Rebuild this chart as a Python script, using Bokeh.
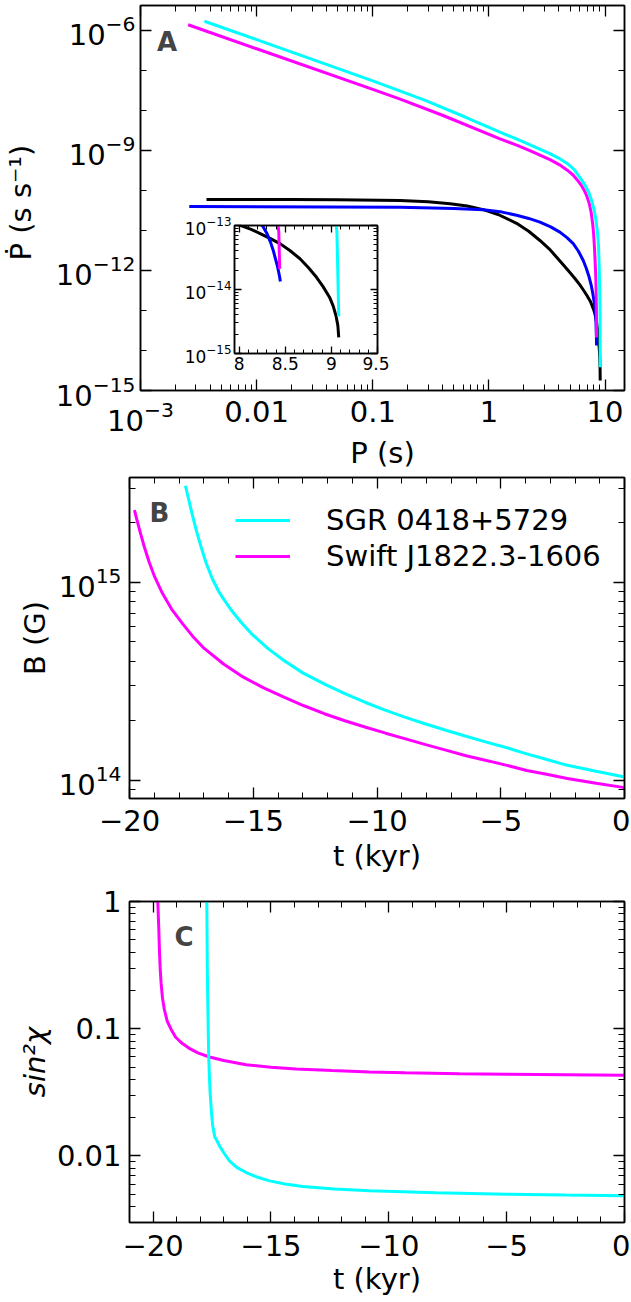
from bokeh.plotting import figure
from bokeh.models import (FixedTicker, LogAxis, LinearAxis, LogTickFormatter, Label,
                          Legend, LegendItem, Range1d, CustomJSTickFormatter)
from bokeh.layouts import column
from bokeh.embed import file_html
from bokeh.resources import INLINE

FONT = "DejaVu Sans"
CYAN = "#00FFFF"
MAGENTA = "#FF00FF"
BLUE = "#0000FF"
BLACK = "#000000"

# ---------------- Panel A : Pdot vs P ----------------
swift_P = [0.00257, 0.01, 0.1, 0.1722, 0.398, 1.246, 1.778, 2.41, 3.35, 4.06, 4.76, 5.33,
           5.81, 6.24, 6.62, 6.98, 7.31, 7.59, 7.82, 7.96, 8.07, 8.18, 8.30, 8.365, 8.41,
           8.43, 8.44]
swift_Pdot = [1.39e-6, 3.48e-7, 3.35e-8, 1.91e-8, 7.59e-9, 1.95e-9, 1.32e-9, 9.1e-10,
              5.9e-10, 4.37e-10, 3.16e-10, 2.4e-10, 1.78e-10, 1.35e-10, 1.0e-10, 7.08e-11,
              4.68e-11, 2.82e-11, 1.48e-11, 8.71e-12, 4.68e-12, 2.09e-12, 8.32e-13,
              3.55e-13, 1.41e-13, 7.94e-14, 2.1e-14]

sgr_P = [0.00355, 0.01, 0.1, 0.283, 0.631, 1.246, 2.0, 3.35, 3.98, 4.75, 5.43, 6.19, 6.76,
         7.31, 7.67, 8.07, 8.36, 8.63, 8.79, 8.91, 8.98, 9.04, 9.06, 9.08]
sgr_Pdot = [1.70e-6, 5.89e-7, 5.5e-8, 1.78e-8, 6.76e-9, 2.88e-9, 1.62e-9, 8.3e-10,
            6.46e-10, 4.68e-10, 3.31e-10, 1.95e-10, 1.32e-10, 8.3e-11, 5.5e-11, 3.16e-11,
            1.78e-11, 8.3e-12, 3.98e-12, 1.2e-12, 3.98e-13, 1.41e-13, 7.94e-14, 3.8e-15]

black_P = [0.0037, 0.02, 0.05, 0.172, 0.30, 0.463, 0.65, 0.895, 1.2, 1.73, 2.2, 2.75, 3.3,
           3.83, 4.4, 4.98, 5.5, 6.07, 6.55, 7.0, 7.5, 8.02, 8.13, 8.234, 8.34, 8.447, 8.55,
           8.66, 8.75, 8.839, 8.91, 8.98, 9.02, 9.05, 9.07, 9.08]
black_Pdot = [5.96e-11, 5.92e-11, 5.89e-11, 5.62e-11, 5.25e-11, 4.68e-11, 4.07e-11,
              3.31e-11, 2.51e-11, 1.51e-11, 9.55e-12, 5.62e-12, 3.47e-12, 2.14e-12,
              1.35e-12, 8.91e-13, 6.31e-13, 4.37e-13, 3.16e-13, 2.34e-13, 1.66e-13,
              1.0e-13, 8.71e-14, 7.41e-14, 6.24e-14, 5.16e-14, 4.07e-14, 3.02e-14, 2.21e-14,
              1.55e-14, 1.11e-14, 7.59e-15, 5.5e-15, 3.89e-15, 2.75e-15, 1.78e-15]

blue_P = [0.00263, 0.172, 0.5, 0.895, 1.3, 1.73, 2.2, 2.75, 3.4, 4.08, 4.7, 5.32, 5.9,
          6.49, 6.9, 7.3, 7.6, 7.85, 8.05, 8.252, 8.30, 8.34, 8.37, 8.394, 8.415, 8.429,
          8.44, 8.447]
blue_Pdot = [3.98e-11, 3.8e-11, 3.55e-11, 3.31e-11, 2.88e-11, 2.4e-11, 2.0e-11, 1.62e-11,
             1.23e-11, 9.12e-12, 6.61e-12, 4.68e-12, 3.02e-12, 1.78e-12, 1.12e-12,
             6.76e-13, 4.27e-13, 2.63e-13, 1.66e-13, 1.0e-13, 7.59e-14, 5.5e-14, 4.07e-14,
             3.02e-14, 2.32e-14, 1.86e-14, 1.55e-14, 1.33e-14]

# ---------------- Panel B : B vs t ----------------
sgr_tB = [-17.74, -17.60, -17.45, -17.30, -17.10, -16.90, -16.65, -16.40, -16.21, -15.90,
          -15.50, -15.07, -14.40, -13.76, -13.00, -12.12, -11.30, -10.49, -9.70, -8.85,
          -8.00, -7.22, -6.40, -5.58, -4.75, -3.95, -3.10, -2.31, -1.15, 0.0]
sgr_B = [3.08e15, 2.60e15, 2.16e15, 1.83e15, 1.50e15, 1.25e15, 1.04e15, 9.02e14, 8.28e14,
         7.28e14, 6.31e14, 5.50e14, 4.63e14, 4.03e14, 3.49e14, 3.06e14, 2.74e14, 2.48e14,
         2.27e14, 2.08e14, 1.92e14, 1.79e14, 1.67e14, 1.56e14, 1.46e14, 1.36e14, 1.27e14,
         1.19e14, 1.11e14, 1.04e14]

swift_tB = [-19.80, -19.70, -19.55, -19.40, -19.20, -19.00, -18.67, -18.30, -17.85, -17.45,
            -17.03, -16.20, -15.40, -14.60, -13.76, -12.95, -12.13, -11.30, -10.49, -9.65,
            -8.85, -8.00, -7.22, -6.40, -5.58, -4.75, -3.95, -3.10, -2.31, -1.15, 0.0]
swift_B = [2.32e15, 2.07e15, 1.76e15, 1.51e15, 1.26e15, 1.08e15, 8.81e14, 7.33e14, 6.17e14,
           5.35e14, 4.70e14, 3.87e14, 3.32e14, 2.94e14, 2.63e14, 2.38e14, 2.17e14, 2.00e14,
           1.86e14, 1.73e14, 1.62e14, 1.51e14, 1.42e14, 1.33e14, 1.26e14, 1.19e14, 1.12e14,
           1.07e14, 1.02e14, 9.66e13, 9.18e13]

# ---------------- Panel C : sin^2 chi vs t ----------------
sgr_tC = [-17.72, -17.71, -17.70, -17.685, -17.67, -17.655, -17.64, -17.61, -17.58, -17.53,
          -17.47, -17.38, -17.30, -17.18, -17.00, -16.76, -16.45, -16.05, -15.60, -15.06,
          -14.40, -13.65, -12.30, -10.82, -8.00, -5.00, -2.50, 0.0]
sgr_sin2 = [1.0, 0.562, 0.316, 0.191, 0.126, 0.0871, 0.0607, 0.0417, 0.0316, 0.0229,
            0.0172, 0.0141, 0.0133, 0.0120, 0.0106, 0.00914, 0.00813, 0.00741, 0.00684,
            0.00637, 0.00603, 0.00575, 0.00550, 0.00532, 0.00513, 0.00501, 0.00493, 0.00486]

swift_tC = [-19.80, -19.76, -19.73, -19.70, -19.66, -19.60, -19.52, -19.40, -19.25, -19.05,
            -18.80, -18.50, -18.10, -17.61, -17.00, -16.05, -15.00, -13.93, -12.40, -10.82,
            -9.30, -7.00, -5.00, -2.50, 0.0]
swift_sin2 = [1.0, 0.631, 0.416, 0.302, 0.228, 0.174, 0.141, 0.115, 0.100, 0.0861, 0.0776,
              0.0708, 0.0646, 0.0600, 0.0562, 0.0522, 0.0499, 0.0483, 0.0469, 0.0458,
              0.0450, 0.0443, 0.0439, 0.0435, 0.0431]

legend_labels = ["SGR 0418+5729", "Swift J1822.3-1606"]

# ---------------- ticks ----------------
A_x_major = [1e-3, 1e-2, 0.1, 1, 10]
A_x_minor = [m * 10.0 ** e for e in range(-3, 1) for m in range(2, 10)]
A_y_major = [1e-15, 1e-12, 1e-9, 1e-6]
A_y_minor = [1e-14, 1e-13, 1e-11, 1e-10, 1e-8, 1e-7]

I_x_major = [8, 8.5, 9, 9.5]
I_x_minor = [round(8 + 0.1 * i, 1) for i in range(1, 15) if i != 5 and i != 10]
I_y_major = [1e-15, 1e-14, 1e-13]
I_y_minor = [m * 10.0 ** e for e in (-15, -14) for m in range(2, 10)]

t_major = [-20, -15, -10, -5, 0]
B_t_minor = [v for v in range(-19, 0) if v % 5 != 0]
C_t_minor = [v for v in range(-20, 0) if v % 5 != 0]
B_y_major = [1e14, 1e15]
B_y_minor = [9e13] + [m * 1e14 for m in range(2, 10)] + [2e15, 3e15]
C_y_major = [0.01, 0.1, 1]
C_y_minor = [m * 10.0 ** e for e in (-3, -2, -1) for m in range(2, 10) if m * 10.0 ** e > 0.0029]

minus_fmt = "return (tick < 0 ? '\\u2212' : '') + Math.abs(tick);"


def style(ax, size, standoff, label_standoff=0, tin=11, minin=6):
    ax.major_tick_in = tin
    ax.major_tick_out = 0
    ax.minor_tick_in = minin
    ax.minor_tick_out = 0
    ax.major_tick_line_color = "black"
    ax.minor_tick_line_color = "black"
    ax.major_tick_line_width = 1.3
    ax.minor_tick_line_width = 1.0
    ax.axis_line_color = "black"
    ax.axis_line_width = 1.5
    ax.major_label_text_font = FONT
    ax.major_label_text_font_size = size
    ax.major_label_text_color = "black"
    ax.major_label_standoff = standoff
    ax.axis_label_text_font = FONT
    ax.axis_label_text_font_size = size
    ax.axis_label_text_font_style = "normal"
    ax.axis_label_text_color = "black"
    ax.axis_label_standoff = label_standoff


def mirror(p, where, ticks, minor, log, tin=11, minin=6):
    Ax = LogAxis if log else LinearAxis
    ax = Ax(ticker=FixedTicker(ticks=ticks, minor_ticks=minor),
            formatter=CustomJSTickFormatter(code="return '';"))
    style(ax, "0px", 0, 0, tin, minin)
    p.add_layout(ax, where)


def base(p):
    p.xgrid.visible = False
    p.ygrid.visible = False
    p.outline_line_color = "black"
    p.outline_line_width = 1.5
    p.background_fill_color = "white"
    p.frame_align = False


# ---------------- Figure A ----------------
pA = figure(width=630, height=490, x_axis_type="log", y_axis_type="log",
            x_range=Range1d(1e-3, 14.7), y_range=Range1d(1e-15, 4.2e-6),
            output_backend="svg", toolbar_location=None,
            min_border_left=140, min_border_right=6, min_border_top=5, min_border_bottom=100)
base(pA)
ax = pA.below[0]
ax.ticker = FixedTicker(ticks=A_x_major, minor_ticks=A_x_minor)
ax.formatter = LogTickFormatter()
ax.major_label_overrides = {0.01: "0.01", 0.1: "0.1", 1: "1", 10: "10"}
ax.axis_label = "P (s)"
style(ax, "29px", 10, 2)
ay = pA.left[0]
ay.ticker = FixedTicker(ticks=A_y_major, minor_ticks=A_y_minor)
ay.formatter = LogTickFormatter()
ay.axis_label = "Ṗ  (s s⁻¹)"
style(ay, "29px", 5, 15)
mirror(pA, "above", A_x_major, A_x_minor, True)
mirror(pA, "right", A_y_major, A_y_minor, True)

pA.line(black_P, black_Pdot, line_width=3, color=BLACK)
pA.line(blue_P, blue_Pdot, line_width=3, color=BLUE)
pA.line(swift_P, swift_Pdot, line_width=3, color=MAGENTA)
pA.line(sgr_P, sgr_Pdot, line_width=3, color=CYAN)
pA.add_layout(Label(x=1.39e-3, y=5.07e-7, text="A", text_font=FONT, text_font_style="bold",
                    text_font_size="26px", text_baseline="alphabetic", text_align="left"))

# ---------------- Inset ----------------
pI = figure(width=208, height=163, y_axis_type="log",
            x_range=Range1d(7.95, 9.5), y_range=Range1d(1e-15, 1e-13),
            output_backend="svg", toolbar_location=None,
            min_border_left=50, min_border_right=12, min_border_top=10, min_border_bottom=25)
base(pI)
pI.border_fill_alpha = 0
pI.margin = (-275, 0, 112, 181)
ix = pI.below[0]
ix.ticker = FixedTicker(ticks=I_x_major, minor_ticks=I_x_minor)
ix.formatter = CustomJSTickFormatter(code="return String(tick);")
style(ix, "17px", 3, 0, 7, 4)
iy = pI.left[0]
iy.ticker = FixedTicker(ticks=I_y_major, minor_ticks=I_y_minor)
iy.formatter = LogTickFormatter()
style(iy, "17px", 3, 0, 7, 4)
mirror(pI, "above", I_x_major, I_x_minor, False, 7, 4)
mirror(pI, "right", I_y_major, I_y_minor, True, 7, 4)
pI.line(black_P, black_Pdot, line_width=3, color=BLACK)
pI.line(blue_P, blue_Pdot, line_width=3, color=BLUE)
pI.line(swift_P, swift_Pdot, line_width=3, color=MAGENTA)
pI.line(sgr_P, sgr_Pdot, line_width=3, color=CYAN)

# ---------------- Figure B ----------------
pB = figure(width=630, height=409, y_axis_type="log",
            x_range=Range1d(-20, 0), y_range=Range1d(8.09e13, 3.39e15),
            output_backend="svg", toolbar_location=None,
            min_border_left=129, min_border_right=6, min_border_top=2, min_border_bottom=86)
base(pB)
pB.border_fill_alpha = 0
pB.margin = (-15, 0, 0, 0)
bx = pB.below[0]
bx.ticker = FixedTicker(ticks=t_major, minor_ticks=B_t_minor)
bx.formatter = CustomJSTickFormatter(code=minus_fmt)
bx.axis_label = "t (kyr)"
style(bx, "29px", 11, 5)
by = pB.left[0]
by.ticker = FixedTicker(ticks=B_y_major, minor_ticks=B_y_minor)
by.formatter = LogTickFormatter()
by.axis_label = "B (G)"
style(by, "29px", 8, 4)
mirror(pB, "above", t_major, B_t_minor, False)
mirror(pB, "right", B_y_major, B_y_minor, True)
rc = pB.line(sgr_tB, sgr_B, line_width=3, color=CYAN)
rm = pB.line(swift_tB, swift_B, line_width=3, color=MAGENTA)
leg = Legend(items=[LegendItem(label=legend_labels[0], renderers=[rc]),
                    LegendItem(label=legend_labels[1], renderers=[rm])],
             location=(106, 224), padding=0, spacing=0, margin=0,
             glyph_width=55, glyph_height=36, label_height=36, label_standoff=36,
             label_text_font=FONT, label_text_font_size="29px", label_text_color="black",
             border_line_color=None, background_fill_alpha=0)
pB.add_layout(leg)
pB.add_layout(Label(x=-19.19, y=2.25e15, text="B", text_font=FONT, text_font_style="bold",
                    text_font_size="26px", text_baseline="alphabetic", text_align="left"))

# ---------------- Figure C ----------------
pC = figure(width=630, height=418, y_axis_type="log",
            x_range=Range1d(-21, 0), y_range=Range1d(0.003, 1),
            output_backend="svg", toolbar_location=None,
            min_border_left=129, min_border_right=6, min_border_top=17, min_border_bottom=80)
base(pC)
cx = pC.below[0]
cx.ticker = FixedTicker(ticks=t_major, minor_ticks=C_t_minor)
cx.formatter = CustomJSTickFormatter(code=minus_fmt)
cx.axis_label = "t (kyr)"
style(cx, "29px", 12, 3)
cy = pC.left[0]
cy.ticker = FixedTicker(ticks=C_y_major, minor_ticks=C_y_minor)
cy.formatter = LogTickFormatter()
cy.major_label_overrides = {0.01: "0.01", 0.1: "0.1", 1: "1"}
cy.axis_label = "sin²χ"
style(cy, "29px", 8, 2)
cy.axis_label_text_font_style = "italic"
mirror(pC, "above", t_major, C_t_minor, False)
mirror(pC, "right", C_y_major, C_y_minor, True)
pC.line(swift_tC, swift_sin2, line_width=3, color=MAGENTA)
pC.line(sgr_tC, sgr_sin2, line_width=3, color=CYAN)
pC.add_layout(Label(x=-19.09, y=0.528, text="C", text_font=FONT, text_font_style="bold",
                    text_font_size="26px", text_baseline="alphabetic", text_align="left"))

layout = column(pA, pI, pB, pC, spacing=0)
open("out.html", "w").write(file_html(layout, INLINE))
